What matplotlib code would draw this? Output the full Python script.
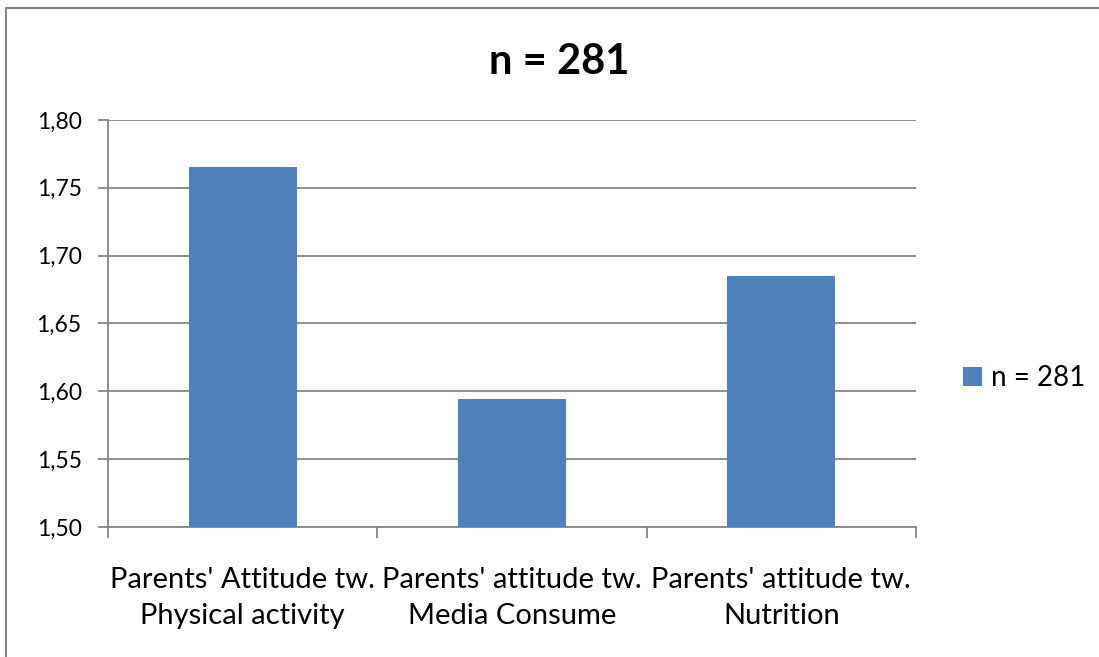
import matplotlib.pyplot as plt
import numpy as np

categories = ["Parents' Attitude tw.\nPhysical activity",
              "Parents' attitude tw.\nMedia Consume",
              "Parents' attitude tw.\nNutrition"]
values = [1.765, 1.594, 1.685]
series_name = 'n = 281'
yticks = [1.50, 1.55, 1.60, 1.65, 1.70, 1.75, 1.80]

plt.rcParams['font.family'] = ['Lato', 'DejaVu Sans']

fig = plt.figure(figsize=(10.99, 6.57), dpi=100)
ax = fig.add_axes([0.0983, 0.1979, 0.7352, 0.6195])

# outer chart frame (left and top edges only)
fx = 5.5 / 1099
fy = (657 - 8) / 657
fig.add_artist(plt.Line2D([fx, fx, 1.2], [-0.2, fy, fy], transform=fig.transFigure,
                          color='#868686', linewidth=1.5, clip_on=False))

x = np.arange(len(categories))
ax.bar(x, values, width=0.4, color='#4F81BD', label=series_name, zorder=3)

ax.set_xlim(-0.5, len(categories) - 0.5)
ax.set_ylim(1.50, 1.80)
ax.set_yticks(yticks)
ax.set_yticklabels([f'{v:.2f}'.replace('.', ',') for v in yticks], fontsize=16.5)
ax.yaxis.grid(True, color='#868686', linewidth=1.3, zorder=0)

ax.set_xticks(x)
ax.set_xticklabels(categories, fontsize=21, linespacing=1.45)
ax.tick_params(axis='x', which='major', length=0, pad=29)
ax.set_xticks(np.arange(-0.5, len(categories)), minor=True)
ax.tick_params(axis='x', which='minor', length=8, color='#868686', width=1.3)
ax.tick_params(axis='y', length=7, color='#868686', width=1.3, pad=12)

for side in ['top', 'right']:
    ax.spines[side].set_visible(False)
for side in ['left', 'bottom']:
    ax.spines[side].set_color('#868686')
    ax.spines[side].set_linewidth(1.3)

fig.text(0.509, 0.905, series_name, ha='center', va='center', fontsize=30, fontweight='bold')

ax.legend(loc='center left', bbox_to_anchor=(0.866, (657 - 378) / 657),
          bbox_transform=fig.transFigure, frameon=False, fontsize=20,
          handlelength=0.7, handleheight=0.7, handletextpad=0.3, borderaxespad=0)

fig.savefig('out.png', dpi=100)
